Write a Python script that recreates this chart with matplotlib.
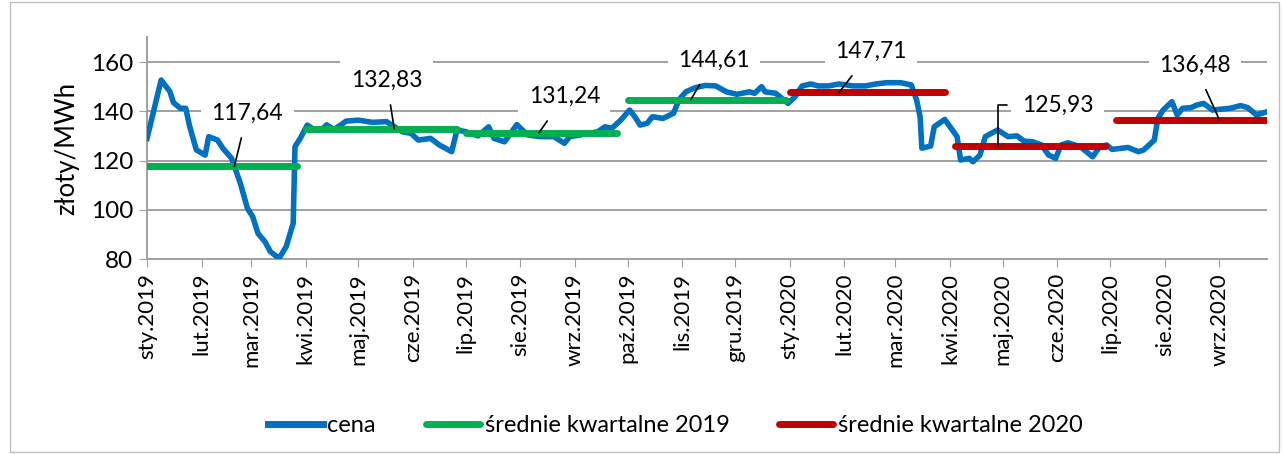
import matplotlib.pyplot as plt
import pandas as pd
from matplotlib.patches import Rectangle

plt.rcParams['font.family'] = ['Lato', 'DejaVu Sans']

# weekly-ish price trace, days counted from 1 Jan 2019
price_days = [0, 8, 13, 15, 19, 22, 24, 28, 33, 35, 40, 43, 48, 53, 57, 60, 63, 67, 70, 75,
              79, 83, 84, 87, 91, 95, 99, 102, 106, 110, 113, 120, 128, 136, 139, 145, 150, 154,
              161, 166, 173, 176, 181, 188, 194, 197, 203, 210, 216, 223, 231, 237, 240, 246,
              256, 260, 264, 269, 274, 277, 280, 284, 287, 293, 299, 302, 306, 311, 317, 323,
              329, 335, 342, 345, 349, 351, 357, 364, 368, 372, 377, 381, 387, 393, 401, 408,
              414, 420, 428, 434, 437, 439, 440, 445, 447, 453, 458, 460, 462, 467, 469, 473,
              476, 483, 489, 494, 498, 503, 508, 512, 516, 519, 523, 530, 537, 541, 545, 548,
              557, 563, 566, 572, 574, 577, 582, 585, 588, 593, 596, 600, 605, 615, 621, 625,
              630, 636]
price = [129.0, 152.7, 148.0, 143.5, 141.2, 141.2, 134.4, 124.3, 122.2, 129.7, 128.3, 125.0,
         120.9, 110.7, 100.6, 97.2, 90.4, 87.0, 83.0, 80.3, 85.0, 94.5, 125.6, 129.0, 134.4,
         132.4, 132.4, 134.5, 132.6, 134.4, 136.0, 136.4, 135.5, 135.8, 134.4, 131.7, 131.0,
         128.3, 129.0, 126.3, 123.6, 132.4, 131.7, 130.0, 133.7, 129.0, 127.6, 134.6, 130.4,
         129.7, 129.7, 127.0, 129.7, 130.4, 131.7, 133.7, 133.1, 136.4, 140.5, 137.8, 134.4,
         135.1, 137.8, 137.1, 139.2, 144.6, 147.9, 149.5, 150.5, 150.3, 147.9, 146.9, 147.9,
         147.3, 150.0, 147.9, 147.3, 143.2, 145.9, 150.3, 151.1, 150.3, 150.3, 151.1, 150.3,
         150.3, 151.1, 151.6, 151.6, 150.7, 144.6, 137.8, 125.0, 125.9, 133.7, 136.7, 131.7,
         129.7, 120.2, 120.9, 119.5, 122.2, 129.7, 132.4, 129.7, 130.0, 127.9, 127.6, 126.3,
         122.2, 120.9, 126.3, 127.2, 125.6, 121.5, 125.6, 126.3, 124.5, 125.3, 123.6, 124.3,
         128.3, 137.1, 140.5, 143.9, 138.5, 141.2, 141.5, 142.5, 143.2, 140.5, 141.2, 142.3,
         141.5, 138.5, 139.8]

# quarterly averages
q_start = ['2019-01-01', '2019-04-01', '2019-07-01', '2019-10-01',
           '2020-01-01', '2020-04-04', '2020-07-04']
q_end = ['2019-03-27', '2019-06-26', '2019-09-25', '2019-12-30',
         '2020-03-29', '2020-06-28', '2020-09-28']
q_avg = [117.64, 132.83, 131.24, 144.61, 147.71, 125.93, 136.48]
q_year = [2019, 2019, 2019, 2019, 2020, 2020, 2020]
q_label = ['117,64', '132,83', '131,24', '144,61', '147,71', '125,93', '136,48']

# label anchor points (days from start, value)
lab_text = [(57, 139.3), (136, 152.7), (237, 145.9), (322, 160.8), (411, 164.2), (517, 142.5), (595, 158.8)]
lab_point = [(49.6, 117.64), (140.4, 132.83), (222.5, 131.24), (308.7, 144.61), (393, 147.71), (483.4, 125.93), (609, 136.48)]

month_names = ['sty', 'lut', 'mar', 'kwi', 'maj', 'cze', 'lip', 'sie', 'wrz', 'paź', 'lis', 'gru']

start = pd.Timestamp('2019-01-01')
dates = start + pd.to_timedelta(price_days, unit='D')

fig = plt.figure(figsize=(12.82, 4.54), dpi=100)
fig.patches.append(Rectangle((0.008, 0.004), 0.99, 0.992, transform=fig.transFigure,
                             fill=False, edgecolor='#bfbfbf', lw=1))
ax = fig.add_axes([0.1147, 0.4295, 0.8736, 0.4881])

grid_c = '#a0a0a0'
for v in [80, 100, 120, 140, 160]:
    ax.axhline(v, color=grid_c, lw=1.4, zorder=0)

ax.plot(dates, price, color='#0070c0', lw=4, solid_joinstyle='round', zorder=3, label='cena')

colors = {2019: '#00b050', 2020: '#c00000'}
done = set()
for s, e, v, y in zip(q_start, q_end, q_avg, q_year):
    lbl = f'średnie kwartalne {y}' if y not in done else None
    done.add(y)
    ax.plot([pd.Timestamp(s), pd.Timestamp(e)], [v, v], color=colors[y], lw=5,
            solid_capstyle='round', zorder=4, label=lbl)

for i, (t, p) in enumerate(zip(lab_text, lab_point)):
    conn = 'angle,angleA=0,angleB=90,rad=0' if i == 5 else 'arc3'
    ax.annotate(q_label[i], xy=(start + pd.Timedelta(days=p[0]), p[1]),
                xytext=(start + pd.Timedelta(days=t[0]), t[1]),
                ha='center', va='center', fontsize=16.5, zorder=6,
                bbox=dict(boxstyle='square,pad=0.45', fc='white', ec='none'),
                arrowprops=dict(arrowstyle='-', color='black', lw=1.2, connectionstyle=conn,
                                shrinkA=3, shrinkB=0))

ax.set_ylim(80, 170)
ax.set_yticks([80, 100, 120, 140, 160])
ax.set_xlim(start, pd.Timestamp('2020-09-28'))
ticks = pd.date_range('2019-01-01', '2020-09-01', freq='MS')
ax.set_xticks(ticks)
ax.set_xticklabels([f'{month_names[d.month - 1]}.{d.year}' for d in ticks], rotation=90, fontsize=16)
ax.tick_params(axis='y', labelsize=17.5, length=6, color=grid_c, pad=4)
ax.tick_params(axis='x', length=6, color=grid_c, pad=4)
ax.set_ylabel('złoty/MWh', fontsize=18.5, labelpad=8)

for sp in ['top', 'right']:
    ax.spines[sp].set_visible(False)
for sp in ['left', 'bottom']:
    ax.spines[sp].set_color(grid_c)
    ax.spines[sp].set_linewidth(1.4)

fig.legend(loc='center', bbox_to_anchor=(0.527, 0.062), ncol=3, frameon=False, fontsize=17,
           handlelength=2.3, handletextpad=0.2, columnspacing=2.1)
for ln in fig.legends[0].get_lines():
    ln.set_linewidth(5)

fig.savefig('out.png', dpi=100)
